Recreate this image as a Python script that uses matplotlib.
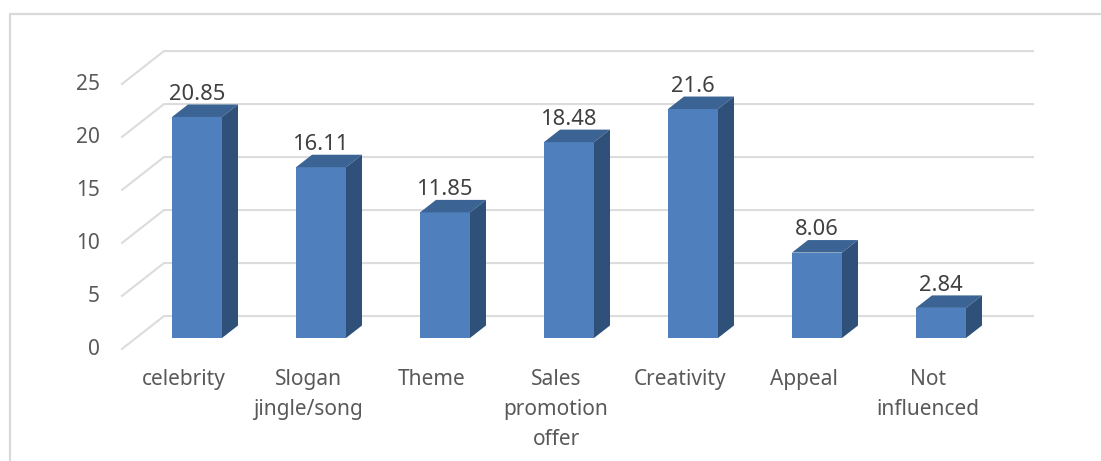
import matplotlib
matplotlib.use("Agg")
import matplotlib.pyplot as plt
from matplotlib.patches import Polygon

categories = ["celebrity", "Slogan\njingle/song", "Theme", "Sales\npromotion\noffer",
              "Creativity", "Appeal", "Not\ninfluenced"]
values = [20.85, 16.11, 11.85, 18.48, 21.6, 8.06, 2.84]
value_labels = ["20.85", "16.11", "11.85", "18.48", "21.6", "8.06", "2.84"]
y_ticks = [0, 5, 10, 15, 20, 25]

FRONT = "#4F80BD"
TOP = "#3B6494"
SIDE = "#2F5079"
GRID = "#DCDCDC"

# scales: 124 px per category, 10.6 px per value unit
PX_X = 124.0
PX_Y = 10.6
X0 = 197
Y0 = 338

plt.rcParams["font.family"] = ["Noto Sans", "DejaVu Sans"]

fig = plt.figure(figsize=(11.01, 4.61), dpi=100)
ax = fig.add_axes([0, 0, 1, 1])
ax.set_xlim(-X0 / PX_X, (1101 - X0) / PX_X)
ax.set_ylim(-(461 - Y0) / PX_Y, Y0 / PX_Y)
ax.axis("off")

bar_w = 50 / PX_X
depth_x = 16 / PX_X
depth_y = 12.5 / PX_Y

# floor/wall offsets of the fake 3D gridlines
grid_front_x = -75 / PX_X
grid_back_x = -33 / PX_X
grid_end_x = 836 / PX_X
grid_front_dy = -1.03
grid_back_dy = 2.07

for t in y_ticks:
    ax.plot([grid_front_x, grid_back_x, grid_end_x],
            [t + grid_front_dy, t + grid_back_dy, t + grid_back_dy],
            color=GRID, lw=1.5, zorder=1, solid_joinstyle="miter")
    ax.text(grid_front_x - 22 / PX_X, t + grid_front_dy - 0.1, str(t), ha="right", va="center",
            fontsize=15, color="#595959")

positions = list(range(len(values)))
ax.bar(positions, values, width=bar_w, color=FRONT, zorder=3)

for x, v, lab in zip(positions, values, value_labels):
    left = x - bar_w / 2
    right = x + bar_w / 2
    ax.add_patch(Polygon([(left, v), (right, v), (right + depth_x, v + depth_y), (left + depth_x, v + depth_y)],
                         closed=True, facecolor=TOP, edgecolor="none", zorder=3))
    ax.add_patch(Polygon([(right, 0), (right + depth_x, depth_y), (right + depth_x, v + depth_y), (right, v)],
                         closed=True, facecolor=SIDE, edgecolor="none", zorder=3))
    ax.text(x, v + 2.15, lab, ha="center", va="center", fontsize=15.8, color="#404040", zorder=4)

for x, name in zip(positions, categories):
    ax.text(x - 13 / PX_X, -2.9, name, ha="center", va="top", fontsize=15,
            color="#595959", linespacing=1.56)

# chart frame, only left and top edges are visible
fig.add_artist(plt.Line2D([9.5 / 1101, 9.5 / 1101, 1], [0, 1 - 14.5 / 461, 1 - 14.5 / 461],
                          color="#D9D9D9", lw=1.6, solid_joinstyle="miter"))

fig.savefig("out.png", dpi=100)
